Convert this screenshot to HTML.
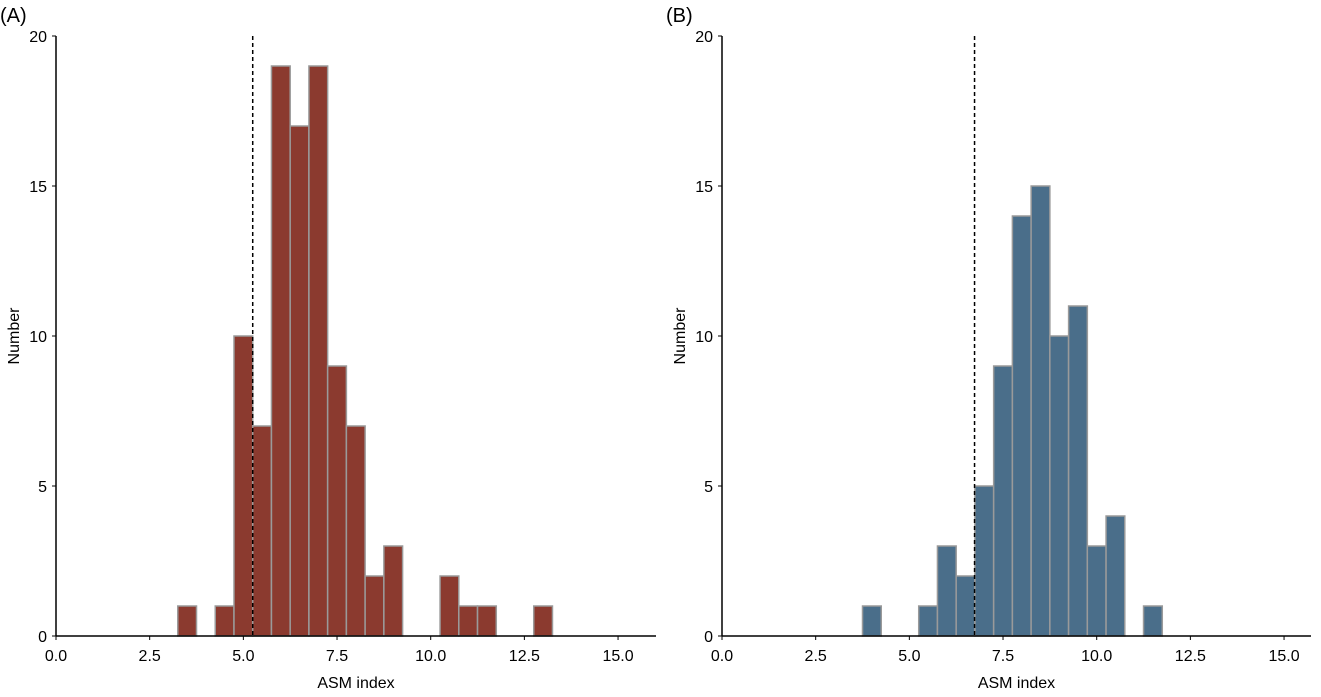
<!DOCTYPE html>
<html><head><meta charset="utf-8"><style>
body{margin:0;background:#fff;}
svg text{font-family:"Liberation Sans",Arial,sans-serif;fill:#000;}
</style></head><body>
<svg id="c" width="1321" height="692" xmlns="http://www.w3.org/2000/svg"></svg>
<script>
const binStartsA=[3.25,4.25,4.75,5.25,5.75,6.25,6.75,7.25,7.75,8.25,8.75,10.25,10.75,11.25,12.75];
const countsA=[1,1,10,7,19,17,19,9,7,2,3,2,1,1,1];
const cutA=5.25;
const binStartsB=[3.75,5.25,5.75,6.25,6.75,7.25,7.75,8.25,8.75,9.25,9.75,10.25,11.25];
const countsB=[1,1,3,2,5,9,14,15,10,11,3,4,1];
const cutB=6.74;
const binWidth=0.5;
const xTicks=[0,2.5,5,7.5,10,12.5,15];
const yTicks=[0,5,10,15,20];
const NS="http://www.w3.org/2000/svg";
const svg=document.getElementById('c');
function mk(t,a,p){const e=document.createElementNS(NS,t);for(const k in a)e.setAttribute(k,a[k]);(p||svg).appendChild(e);return e;}
function panel(x0,xEnd,label,starts,counts,cut,color,name){
  const g=mk('g',{});
  
  
  const y0=636,yTop=36,ppx=37.47;
  const X=v=>x0+v*ppx, Y=v=>y0-(v/20)*(y0-yTop);
  starts.forEach((s,i)=>{
    const r=mk('rect',{x:X(s),y:Y(counts[i]),width:X(s+binWidth)-X(s),height:y0-Y(counts[i]),fill:color,stroke:'#9a9a9a','stroke-width':1.5},g);
    
    
  });
  const d=mk('line',{x1:X(cut),x2:X(cut),y1:yTop,y2:y0,stroke:'#000','stroke-width':1.5,'stroke-dasharray':'4,3'},g);
  
  
  mk('line',{x1:x0,x2:x0,y1:yTop,y2:y0,stroke:'#000','stroke-width':1.5},g);
  mk('line',{x1:x0,x2:xEnd,y1:y0,y2:y0,stroke:'#000','stroke-width':1.5},g);
  yTicks.forEach(v=>{
    mk('line',{x1:x0-4,x2:x0,y1:Y(v),y2:Y(v),stroke:'#000','stroke-width':1},g);
    const t=mk('text',{x:x0-9,y:Y(v)+6,'text-anchor':'end','font-size':16},g);t.textContent=v;
    
    
  });
  xTicks.forEach(v=>{
    mk('line',{x1:X(v),x2:X(v),y1:y0,y2:y0+4,stroke:'#000','stroke-width':1},g);
    const t=mk('text',{x:X(v),y:y0+25,'text-anchor':'middle','font-size':16},g);t.textContent=v.toFixed(1);
    
    
  });
  const xt=mk('text',{x:(x0+xEnd)/2,y:y0+52,'text-anchor':'middle','font-size':16},g);xt.textContent='ASM index';
  
  
  const yt=mk('text',{x:0,y:0,'text-anchor':'middle','font-size':16,transform:`translate(${x0-37},336) rotate(-90)`},g);yt.textContent='Number';
  
  
  const pl=mk('text',{x:x0-56,y:22,'font-size':20},g);pl.textContent=label;
  
  
}
panel(56,656,'(A)',binStartsA,countsA,cutA,'#8b3a2f','panel-a');
panel(722,1311,'(B)',binStartsB,countsB,cutB,'#4a6e8a','panel-b');
</script>
</body></html>
